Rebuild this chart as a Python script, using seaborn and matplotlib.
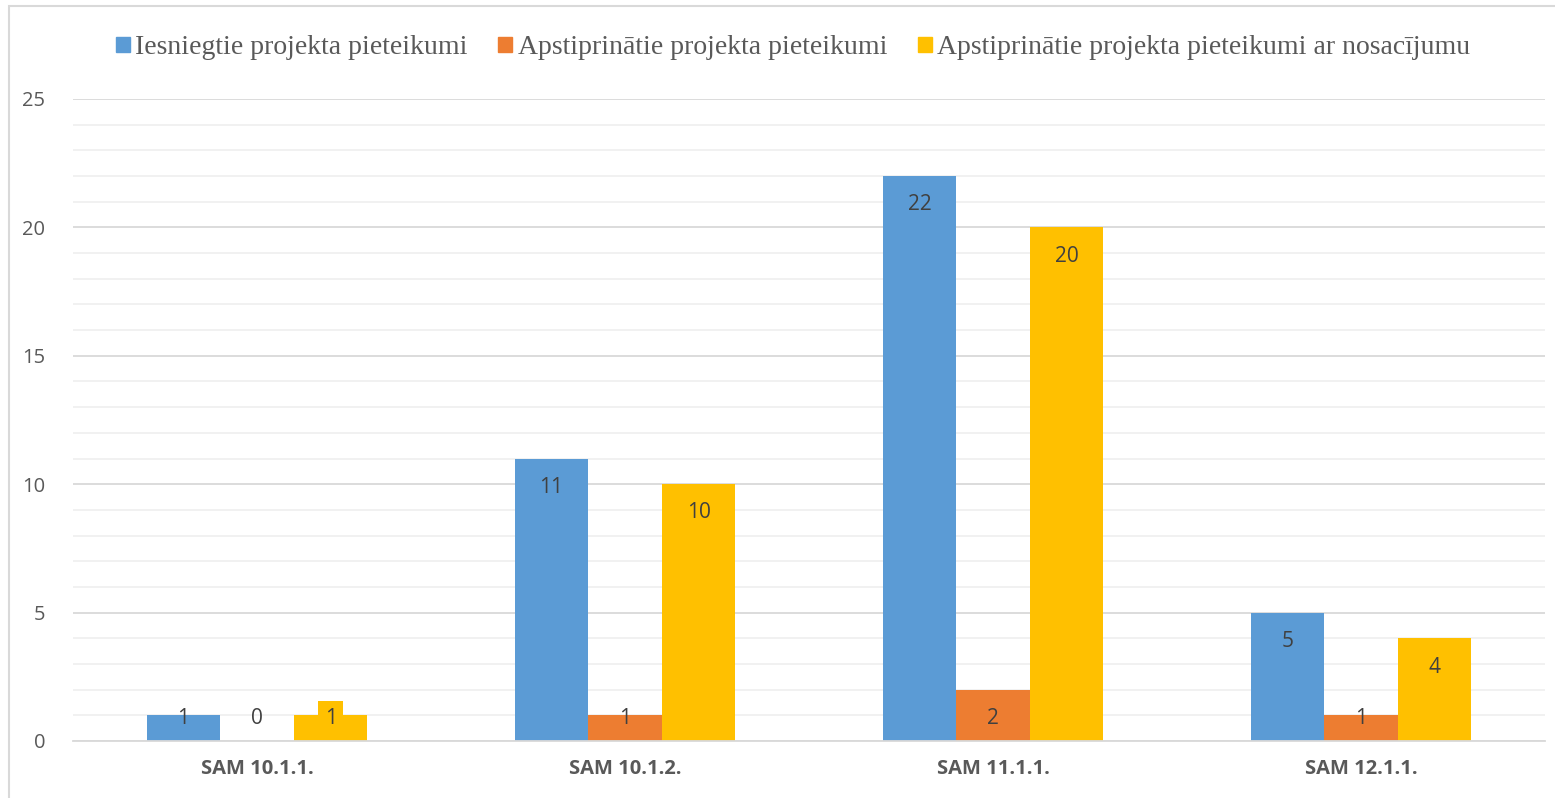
import pandas as pd
import numpy as np
import matplotlib.pyplot as plt
import matplotlib.patches as mpatches
import seaborn as sns

# Data
categories = ['SAM 10.1.1.', 'SAM 10.1.2.', 'SAM 11.1.1.', 'SAM 12.1.1.']
series_names = ['Iesniegtie projekta pieteikumi',
                'Apstiprinātie projekta pieteikumi',
                'Apstiprinātie projekta pieteikumi ar nosacījumu']
submitted = [1, 11, 22, 5]
approved = [0, 1, 2, 1]
approved_cond = [1, 10, 20, 4]
colors = ['#5B9BD5', '#ED7D31', '#FFC000']

rows = []
for name, vals in zip(series_names, [submitted, approved, approved_cond]):
    for cat, v in zip(categories, vals):
        rows.append({'cat': cat, 'series': name, 'value': v})
df = pd.DataFrame(rows)

sns.set_style("white")
plt.rcParams['font.family'] = ['Open Sans', 'DejaVu Sans']

fig = plt.figure(figsize=(15.55, 7.98), dpi=100)
ax = fig.add_axes([73 / 1555, 1 - 741 / 798, 1472 / 1555, 642 / 798])

sns.barplot(data=df, x='cat', y='value', hue='series', order=categories,
            hue_order=series_names, palette=colors, width=0.6,
            saturation=1, ax=ax, legend=False, errorbar=None, linewidth=0)

ax.set_xlim(-0.5, 3.5)
ax.set_ylim(0, 25)
ax.set_yticks(np.arange(0, 26, 5))
ax.set_yticks(np.arange(0, 26, 1), minor=True)
ax.grid(axis='y', which='major', color='#D9D9D9', linewidth=1.3)
ax.grid(axis='y', which='minor', color='#F0F0F0', linewidth=1.3)
ax.set_axisbelow(True)
for s in ['top', 'right', 'left']:
    ax.spines[s].set_visible(False)
ax.spines['bottom'].set_color('#D9D9D9')
ax.spines['bottom'].set_linewidth(1.3)
ax.tick_params(axis='both', which='both', length=0, colors='#595959')
ax.tick_params(axis='y', labelsize=14.5, pad=20)
ax.tick_params(axis='x', labelsize=14.5, pad=13)
for lab in ax.get_xticklabels():
    lab.set_fontweight('bold')
ax.set_xlabel('')
ax.set_ylabel('')

# Value labels (inside the bar end)
for ci, cont in enumerate(ax.containers):
    for bi, bar in enumerate(cont):
        v = bar.get_height()
        xc = bar.get_x() + bar.get_width() / 2
        y = max(v - 1, 1) - 0.12
        kw = {}
        if ci == 2 and bi == 0:
            kw['bbox'] = dict(facecolor=colors[2], edgecolor='none', pad=5)
        ax.text(xc, y, f'{int(v)}', ha='center', va='center', fontsize=15,
                color='#404040', **kw)

# Legend
handles = [mpatches.Patch(color=c, label=n) for c, n in zip(colors, series_names)]
fig.legend(handles=handles, loc='center', bbox_to_anchor=(0.51, 0.94), ncol=3,
           frameon=False, prop={'family': 'Liberation Serif', 'size': 20},
           labelcolor='#595959', handlelength=0.5, handleheight=0.5,
           handletextpad=0.2, columnspacing=1.1)

# Chart frame
fig.patches.append(mpatches.Rectangle((9 / 1555, -0.01), 1.1, 1.0025,
                                      transform=fig.transFigure, fill=False,
                                      edgecolor='#D9D9D9', linewidth=1.5))

fig.savefig('out.png', dpi=100)
